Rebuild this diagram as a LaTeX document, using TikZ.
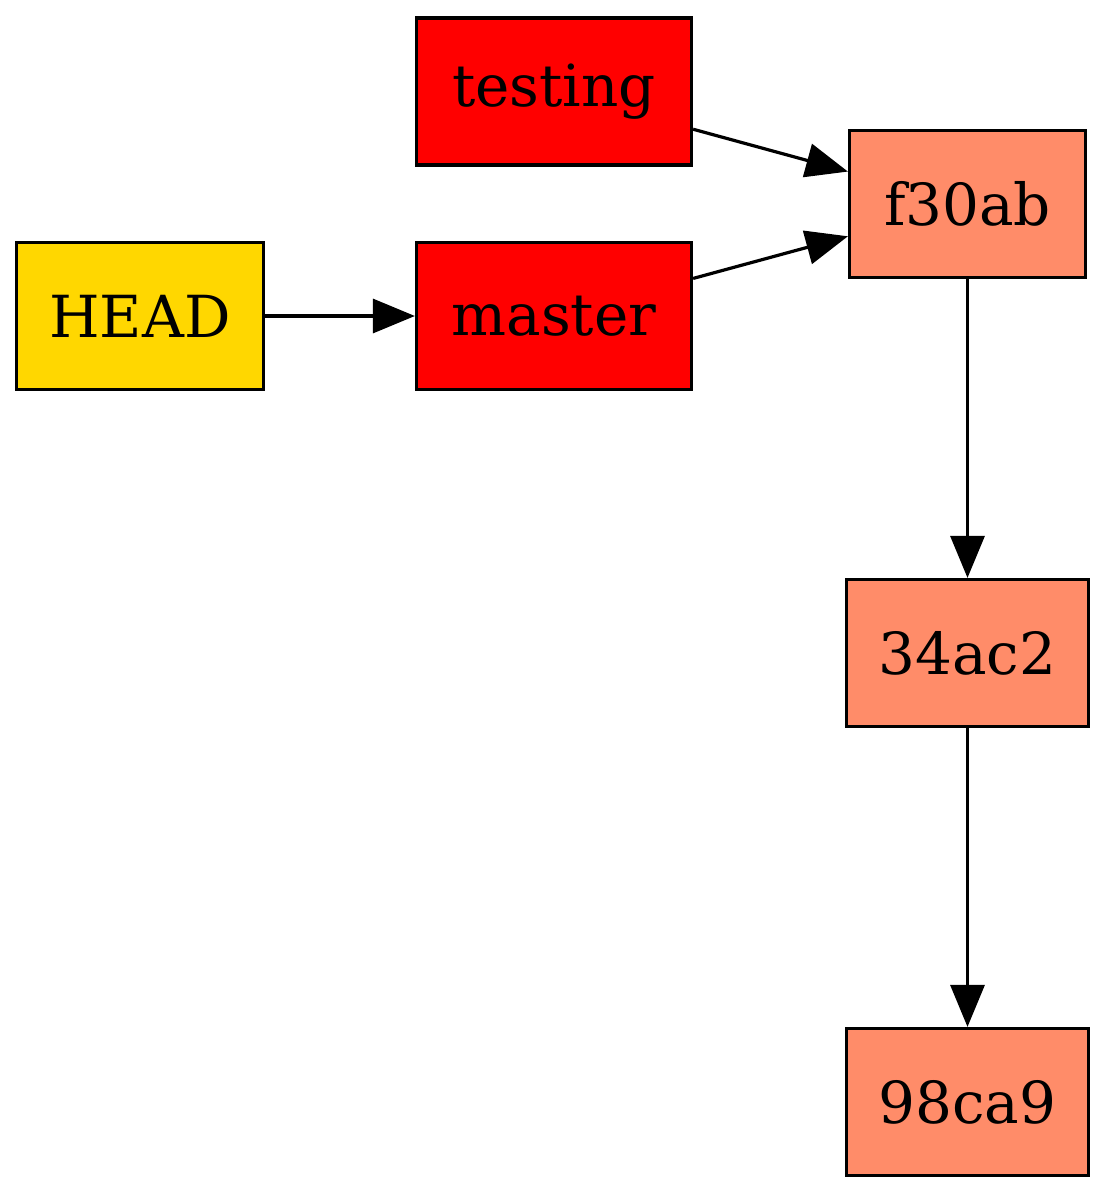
\documentclass[tikz,border=0pt]{standalone}
\usepackage{fontspec}
\setmainfont{DejaVu Serif}
\usetikzlibrary{arrows.meta}
\definecolor{headgold}{HTML}{FFD700}
\definecolor{branchred}{HTML}{FF0000}
\definecolor{commitsalmon}{HTML}{FF8C69}
\begin{document}
\begin{tikzpicture}[x=1pt,y=-1pt,
  box/.style={draw=black, line width=3.2pt, minimum height=147pt, inner sep=0pt,
    font=\fontsize{58}{64}\selectfont, anchor=center},
  headbox/.style={box, fill=headgold, minimum width=247pt},
  branchbox/.style={box, fill=branchred, minimum width=275pt},
  commitbox/.style={box, fill=commitsalmon, minimum width=242pt},
  edge/.style={line width=3.2pt, -{Triangle[length=42pt,width=34pt]}}]
\useasboundingbox (0,0) rectangle (1108,1196);
\node[headbox] (head) at (140,316) {HEAD};
\node[branchbox] (testing) at (554,91.5) {testing};
\node[branchbox] (master) at (554,316) {master};
\node[commitbox, minimum width=236pt] (f30ab) at (967.5,204) {f30ab};
\node[commitbox] (c34ac2) at (967.5,653) {34ac2};
\node[commitbox] (c98ca9) at (967.5,1102) {98ca9};
\draw[edge] (head) -- (master);
\draw[edge] (testing) -- (f30ab);
\draw[edge] (master) -- (f30ab);
\draw[edge] (f30ab) -- (c34ac2);
\draw[edge] (c34ac2) -- (c98ca9);
\end{tikzpicture}
\end{document}
